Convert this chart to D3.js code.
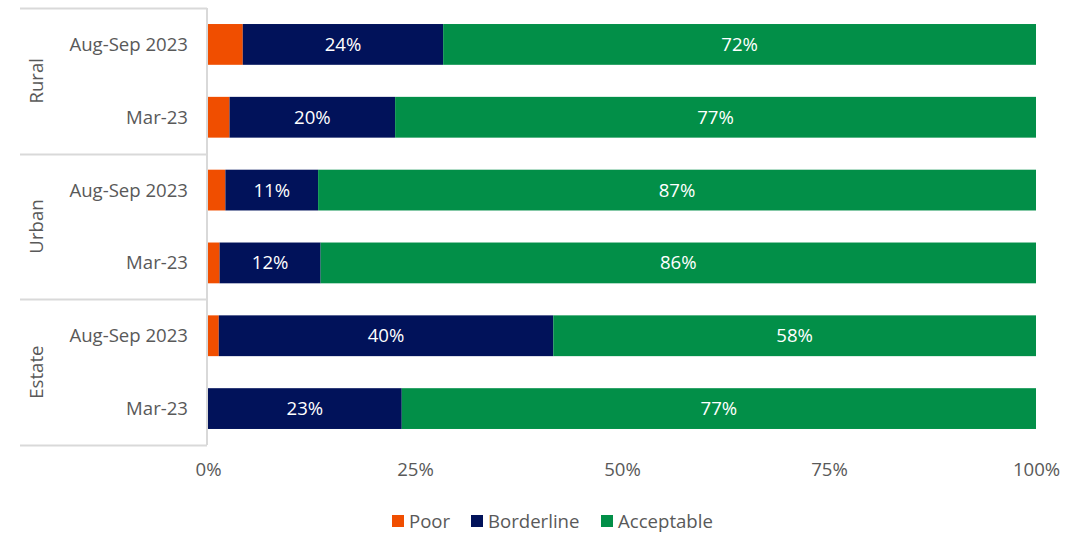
<!DOCTYPE html>
<html>
<head>
<meta charset="utf-8">
<script src="https://cdn.jsdelivr.net/npm/d3@7"></script>
<style>
  body { margin: 0; background: #fff; }
  text { font-family: "Open Sans", sans-serif; }
</style>
</head>
<body>
<div id="chart"></div>
<script>
const groups = ["Rural", "Urban", "Estate"];
const periods = ["Aug-Sep 2023", "Mar-23"];
const seriesNames = ["Poor", "Borderline", "Acceptable"];
const seriesColors = ["#f04e00", "#01125a", "#028f48"];
// one value per row: Rural Aug, Rural Mar, Urban Aug, Urban Mar, Estate Aug, Estate Mar
const poor = [4.2, 2.6, 2.1, 1.4, 1.3, 0];
const borderline = [24.2, 20.0, 11.2, 12.2, 40.4, 23.4];
const acceptable = [71.6, 77.4, 86.7, 86.4, 58.3, 76.6];
const xTicks = [0, 25, 50, 75, 100];

const width = 1086, height = 534;
const margin = {left: 208, right: 50, top: 8, bottom: 89};
const fontSize = "18.6px";

const rows = [];
groups.forEach((g, gi) => periods.forEach((p, pi) => {
    const i = gi * periods.length + pi;
    rows.push({key: g + "|" + p, group: g, period: p,
        Poor: poor[i], Borderline: borderline[i], Acceptable: acceptable[i]});
}));

const svg = d3.select("#chart").append("svg")
    .attr("width", width)
    .attr("height", height);

const x = d3.scaleLinear().domain([0, 100])
    .range([margin.left, width - margin.right]);
const y = d3.scaleBand().domain(rows.map(d => d.key))
    .range([margin.top, height - margin.bottom])
    .paddingInner(0.44).paddingOuter(0.22);

const stack = d3.stack().keys(seriesNames)(rows);

svg.append("g").selectAll("g")
    .data(stack)
    .enter().append("g")
    .attr("fill", (d, i) => seriesColors[i])
    .selectAll("rect")
    .data(d => d)
    .enter().append("rect")
    .attr("x", d => x(d[0]))
    .attr("y", d => y(d.data.key))
    .attr("width", d => x(d[1]) - x(d[0]))
    .attr("height", y.bandwidth());

// value labels (Poor not labelled)
svg.append("g").selectAll("g")
    .data(stack.slice(1))
    .enter().append("g")
    .selectAll("text")
    .data(d => d)
    .enter().append("text")
    .attr("x", d => (x(d[0]) + x(d[1])) / 2)
    .attr("y", d => y(d.data.key) + y.bandwidth() / 2)
    .attr("dy", "0.35em")
    .attr("text-anchor", "middle")
    .attr("fill", "#fff")
    .style("font-size", fontSize)
    .text(d => Math.round(d[1] - d[0]) + "%");

// group separators and axis line
const step = y.step();
const groupTop = g => y(g + "|" + periods[0]) - (step - y.bandwidth()) / 2;
const groupBottom = g => y(g + "|" + periods[periods.length - 1]) + y.bandwidth() + (step - y.bandwidth()) / 2;
const lineYs = [groupTop(groups[0])].concat(groups.map(groupBottom));

svg.append("g").selectAll("line")
    .data(lineYs)
    .enter().append("line")
    .attr("x1", 20).attr("x2", margin.left - 1)
    .attr("y1", d => Math.round(d) + 0.5).attr("y2", d => Math.round(d) + 0.5)
    .attr("stroke", "#d9d9d9").attr("stroke-width", 2);

svg.append("line")
    .attr("x1", margin.left - 1).attr("x2", margin.left - 1)
    .attr("y1", lineYs[0]).attr("y2", lineYs[lineYs.length - 1])
    .attr("stroke", "#d9d9d9").attr("stroke-width", 2);

// category labels
svg.append("g").selectAll("text")
    .data(rows)
    .enter().append("text")
    .attr("x", 188)
    .attr("y", d => y(d.key) + y.bandwidth() / 2)
    .attr("dy", "0.35em")
    .attr("text-anchor", "end")
    .attr("fill", "#595959")
    .style("font-size", fontSize)
    .text(d => d.period);

// group labels
svg.append("g").selectAll("text")
    .data(groups)
    .enter().append("text")
    .attr("transform", g => `translate(36,${(groupTop(g) + groupBottom(g)) / 2}) rotate(-90)`)
    .attr("dy", "0.35em")
    .attr("text-anchor", "middle")
    .attr("fill", "#595959")
    .style("font-size", fontSize)
    .text(g => g);

// x axis
const xAxis = svg.append("g")
    .attr("transform", `translate(0,${lineYs[lineYs.length - 1]})`)
    .call(d3.axisBottom(x).tickValues(xTicks).tickFormat(d => d + "%").tickSize(0).tickPadding(18));
xAxis.select(".domain").remove();
xAxis.selectAll("text")
    .attr("fill", "#595959")
    .style("font-family", "'Open Sans', sans-serif")
    .style("font-size", fontSize);

// legend
const legendItems = [
    {name: "Poor", x: 392},
    {name: "Borderline", x: 471},
    {name: "Acceptable", x: 601}
];
const legend = svg.append("g").selectAll("g")
    .data(legendItems)
    .enter().append("g")
    .attr("transform", d => `translate(${d.x},521)`);
legend.append("rect")
    .attr("x", 0).attr("y", -6)
    .attr("width", 12).attr("height", 12)
    .attr("fill", (d, i) => seriesColors[i]);
legend.append("text")
    .attr("x", 17)
    .attr("dy", "0.35em")
    .attr("fill", "#595959")
    .style("font-size", fontSize)
    .text(d => d.name);
</script>
</body>
</html>
